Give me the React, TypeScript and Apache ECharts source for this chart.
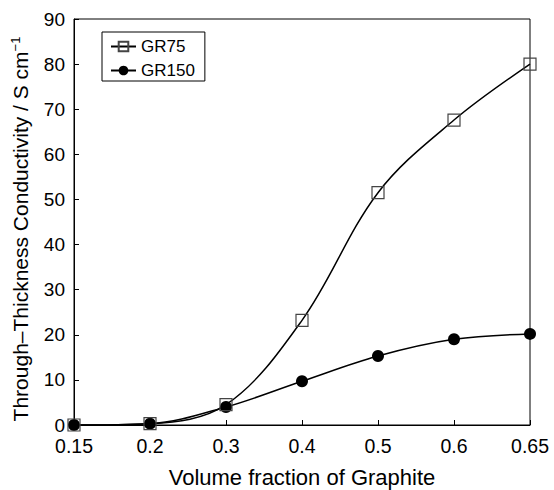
import React, { useEffect, useRef } from "react";
import * as echarts from "echarts";

const categories = ["0.15", "0.2", "0.3", "0.4", "0.5", "0.6", "0.65"];
const gr75 = [0, 0.3, 4.5, 23.2, 51.5, 67.6, 80.0];
const gr150 = [0, 0.3, 4.0, 9.7, 15.3, 19.0, 20.2];
const seriesNames = ["GR75", "GR150"];

const FONT = "Liberation Sans, Arial, Helvetica, sans-serif";

export default function App() {
  const ref = useRef<HTMLDivElement>(null);
  useEffect(() => {
    document.body.style.margin = "0";
    document.body.style.overflow = "hidden";
    if (!ref.current) return;
    const chart = echarts.init(ref.current, undefined, { renderer: "svg" });
    chart.setOption({
      animation: false,
      backgroundColor: "#fff",
      textStyle: { fontFamily: FONT, color: "#000" },
      grid: {
        left: 74,
        right: 24,
        top: 19,
        bottom: 65,
        show: true,
        borderColor: "#000",
        borderWidth: 1,
        containLabel: false,
        outerBoundsMode: "none",
      },
      legend: {
        left: 102,
        top: 32,
        orient: "vertical",
        borderColor: "#000",
        borderWidth: 1,
        padding: [6, 10, 2, 8],
        itemWidth: 25,
        itemHeight: 12,
        itemGap: 7,
        textStyle: { fontFamily: FONT, fontSize: 17, color: "#000" },
        data: seriesNames,
      },
      xAxis: {
        type: "category",
        data: categories,
        boundaryGap: false,
        axisLine: { lineStyle: { color: "#000", width: 1 } },
        axisTick: { inside: true, length: 5, lineStyle: { color: "#000" } },
        axisLabel: { fontFamily: FONT, fontSize: 19.5, color: "#000", margin: 11, hideOverlap: false },
        name: "Volume fraction of Graphite",
        nameLocation: "middle",
        nameGap: 41,
        nameTextStyle: { fontFamily: FONT, fontSize: 22, color: "#000" },
      },
      yAxis: {
        type: "value",
        min: 0,
        max: 90,
        interval: 10,
        splitLine: { show: false },
        axisLine: { show: true, lineStyle: { color: "#000", width: 1 } },
        axisTick: { show: true, inside: true, length: 5, lineStyle: { color: "#000" } },
        axisLabel: { fontFamily: FONT, fontSize: 19, color: "#000", margin: 9 },
        name: "Through\u2013Thickness Conductivity / S cm{sup|\u22121}",
        nameLocation: "middle",
        nameRotate: 90,
        nameGap: 43,
        nameTextStyle: {
          fontFamily: FONT,
          fontSize: 21,
          color: "#000",
          padding: [0, 14, 0, 0],
          rich: {
            sup: { fontFamily: FONT, fontSize: 13, color: "#000", verticalAlign: "top", padding: [0, 0, 9, 0] },
          },
        },
      },
      series: [
        {
          name: seriesNames[0],
          type: "line",
          data: gr75,
          smooth: 0.35,
          symbol: "rect",
          symbolSize: 12,
          z: 3,
          lineStyle: { color: "#000", width: 1.5 },
          itemStyle: { color: "rgba(255,255,255,0)", borderColor: "#444", borderWidth: 1.2 },
        },
        {
          name: seriesNames[1],
          type: "line",
          data: gr150,
          smooth: 0.35,
          symbol: "circle",
          symbolSize: 12,
          z: 2,
          lineStyle: { color: "#000", width: 1.5 },
          itemStyle: { color: "#000", borderColor: "#000", borderWidth: 0 },
        },
      ],
    });
    return () => chart.dispose();
  }, []);
  return <div ref={ref} style={{ width: 554, height: 490 }} />;
}
